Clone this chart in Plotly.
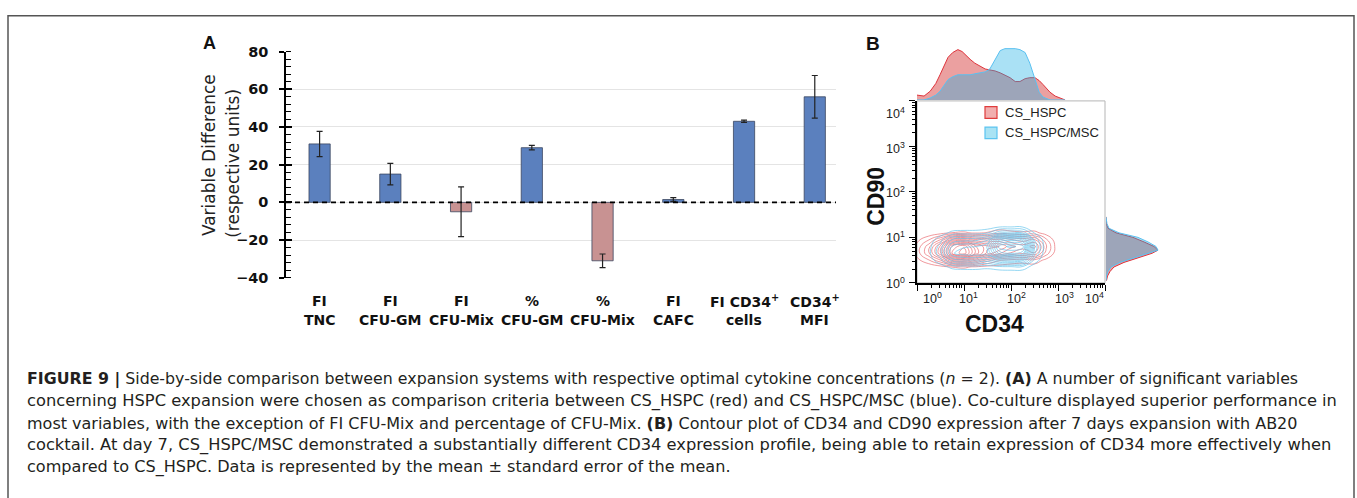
import math
import plotly.graph_objects as go

W, H = 1357, 498
def fx(p): return p / W
def fy(p): return 1 - p / H

# ---------------- Panel A data ----------------
cat_line1 = ["FI", "FI", "FI", "%", "%", "FI", "FI CD34<sup>+</sup>", "CD34<sup>+</sup>"]
cat_line2 = ["TNC", "CFU-GM", "CFU-Mix", "CFU-GM", "CFU-Mix", "CAFC", "cells", "MFI"]
diff_values = [31, 15, -5, 29, -31, 1.5, 43, 56]
diff_errors = [6.7, 5.7, 13.2, 1.2, 3.6, 1.0, 0.6, 11.3]
y_ticks_a = [-40, -20, 0, 20, 40, 60, 80]

# ---------------- Panel B data ----------------
# top marginal histogram (log10 CD34 vs relative frequency)
top_x = [0.0, 0.15, 0.28, 0.4, 0.49, 0.58, 0.66, 0.76, 0.87, 0.96, 1.04, 1.13, 1.23, 1.34, 1.45,
         1.55, 1.66, 1.77, 1.87, 1.98, 2.09, 2.19, 2.30, 2.40, 2.51, 2.60, 2.68, 2.76, 2.83, 2.94, 3.04, 3.15]
top_red = [5, 4, 9, 17, 26, 36, 44, 49, 52, 50, 46, 42, 38, 35, 32,
           31, 30, 28, 26, 23, 19, 19, 22, 23, 23, 20, 16, 12, 8, 4, 2, 0]
top_blue = [0, 0, 2, 5, 9, 15, 21, 24, 26, 26, 26, 26, 27, 28, 29,
            32, 42, 51, 53, 53, 53, 52, 49, 38, 20, 8, 3, 1, 0, 0, 0, 0]
# right marginal histogram (log10 CD90 vs relative frequency)
right_y = [0.05, 0.15, 0.25, 0.35, 0.45, 0.55, 0.65, 0.72, 0.8, 0.9, 1.0, 1.1, 1.2, 1.3, 1.45]
right_red = [0.5, 1.5, 4, 8, 18, 33, 46, 52, 48, 38, 27, 10, 2, 0.5, 0]
right_blue = [0, 0.5, 2, 5, 14, 29, 44, 52, 50, 42, 32, 13, 3, 1, 0]

# density grids (log10 CD34 columns x log10 CD90 rows)
grid_x = [-0.25, 0, 0.25, 0.5, 0.75, 1.0, 1.25, 1.5, 1.75, 2.0, 2.25, 2.5, 2.75, 3.0]
grid_y = [0.2, 0.35, 0.5, 0.65, 0.8, 0.95, 1.1, 1.25]
red_z = [
    [0, 0.02, 0.05, 0.1, 0.18, 0.2, 0.15, 0.09, 0.06, 0.05, 0.04, 0.05, 0.02, 0],
    [0, 0.08, 0.2, 0.4, 0.72, 0.8, 0.6, 0.45, 0.44, 0.36, 0.32, 0.36, 0.16, 0.02],
    [0, 0.5, 1.25, 2.5, 4.5, 5, 3.75, 2.2, 1.38, 1.13, 1.0, 1.13, 0.5, 0.05],
    [0, 0.95, 2.38, 4.75, 8.55, 9.5, 7.13, 5.25, 4.4, 3.6, 3.2, 3.6, 1.6, 0.16],
    [0, 0.9, 2.25, 4.5, 8.1, 9, 6.75, 5.7, 5.5, 4.5, 4, 4.5, 2.0, 0.2],
    [0, 0.5, 1.25, 2.5, 4.5, 5, 3.75, 3.6, 3.85, 3.15, 2.8, 3.15, 1.4, 0.14],
    [0, 0.08, 0.2, 0.4, 0.72, 0.8, 0.6, 0.75, 1.1, 0.9, 0.8, 0.9, 0.4, 0.04],
    [0, 0.01, 0.02, 0.04, 0.07, 0.08, 0.06, 0.1, 0.17, 0.14, 0.12, 0.14, 0.06, 0.01],
]
blue_z = [
    [0, 0, 0.02, 0.05, 0.14, 0.15, 0.15, 0.12, 0.14, 0.15, 0.14, 0.04, 0, 0],
    [0, 0, 0.1, 0.36, 0.9, 1.0, 1.02, 0.9, 1.14, 1.2, 1.14, 0.3, 0.01, 0],
    [0, 0, 0.33, 1.17, 2.93, 3.25, 3.32, 3.08, 4.28, 4.5, 4.28, 1.13, 0.05, 0],
    [0, 0, 0.5, 1.8, 4.5, 5, 5.1, 5.18, 8.08, 8.5, 8.08, 2.13, 0.09, 0],
    [0, 0, 0.45, 1.62, 4.05, 4.5, 4.59, 5.32, 9.5, 10, 9.5, 2.5, 0.1, 0],
    [0, 0, 0.3, 1.08, 2.7, 3, 3.06, 3.78, 7.13, 7.5, 7.13, 1.88, 0.08, 0],
    [0, 0, 0.1, 0.36, 0.9, 1, 1.02, 1.29, 2.47, 2.6, 2.47, 0.65, 0.03, 0],
    [0, 0, 0.02, 0.05, 0.14, 0.15, 0.15, 0.2, 0.38, 0.4, 0.38, 0.1, 0, 0],
]
decades = [0, 1, 2, 3, 4]
legend_names = ["CS_HSPC", "CS_HSPC/MSC"]

caption_lines = [
    "<b>FIGURE 9 |</b> Side-by-side comparison between expansion systems with respective optimal cytokine concentrations (<i>n</i> = 2). <b>(A)</b> A number of significant variables",
    "concerning HSPC expansion were chosen as comparison criteria between CS_HSPC (red) and CS_HSPC/MSC (blue). Co-culture displayed superior performance in",
    "most variables, with the exception of FI CFU-Mix and percentage of CFU-Mix. <b>(B)</b> Contour plot of CD34 and CD90 expression after 7 days expansion with AB20",
    "cocktail. At day 7, CS_HSPC/MSC demonstrated a substantially different CD34 expression profile, being able to retain expression of CD34 more effectively when",
    "compared to CS_HSPC. Data is represented by the mean \u00b1 standard error of the mean.",
]
caption_sizes = [15.8, 16.3, 16.0, 16.3, 16.1]

# ---------------- colours ----------------
BLUE_BAR = "#5b80be"
RED_BAR = "#c89292"
RED_LINE = "rgb(222,52,60)"
BLUE_LINE = "rgb(90,192,240)"
RED_FILL = "rgba(211,44,44,0.45)"
BLUE_FILL = "rgba(25,174,228,0.37)"

fig = go.Figure()

# ---- Panel A bars ----
cat_idx = list(range(len(diff_values)))
bar_colors = [BLUE_BAR if v >= 0 else RED_BAR for v in diff_values]
fig.add_trace(go.Bar(
    x=cat_idx, y=diff_values, width=0.3,
    marker=dict(color=bar_colors, line=dict(color="#3b4660", width=0.8)),
    error_y=dict(type="data", array=diff_errors, color="#222", thickness=1.2, width=3),
    xaxis="x4", yaxis="y4", showlegend=False, hoverinfo="skip"))
fig.add_trace(go.Scatter(x=[None], y=[None], xaxis="x4", yaxis="y5", showlegend=False))

# ---- Panel B contours ----
fig.add_trace(go.Contour(
    x=grid_x, y=grid_y, z=red_z, xaxis="x", yaxis="y",
    contours=dict(coloring="lines", start=0.7, end=9.4, size=0.6),
    line=dict(width=0.8, smoothing=1.3),
    colorscale=[[0, "rgba(232,95,100,0.8)"], [1, "rgba(232,95,100,0.8)"]],
    showscale=False, hoverinfo="skip"))
fig.add_trace(go.Contour(
    x=grid_x, y=grid_y, z=blue_z, xaxis="x", yaxis="y",
    contours=dict(coloring="lines", start=0.7, end=10, size=0.65),
    line=dict(width=0.8, smoothing=1.3),
    colorscale=[[0, "rgba(100,195,235,0.85)"], [1, "rgba(100,195,235,0.85)"]],
    showscale=False, hoverinfo="skip"))

# ---- marginal histograms ----
fig.add_trace(go.Scatter(x=top_x, y=top_red, mode="lines", fill="tozeroy",
                         line=dict(color=RED_LINE, width=1), fillcolor=RED_FILL,
                         xaxis="x2", yaxis="y2", showlegend=False, hoverinfo="skip"))
fig.add_trace(go.Scatter(x=top_x, y=top_blue, mode="lines", fill="tozeroy",
                         line=dict(color=BLUE_LINE, width=1), fillcolor=BLUE_FILL,
                         xaxis="x2", yaxis="y2", showlegend=False, hoverinfo="skip"))
fig.add_trace(go.Scatter(x=right_red, y=right_y, mode="lines", fill="tozerox",
                         line=dict(color=RED_LINE, width=1), fillcolor=RED_FILL,
                         xaxis="x3", yaxis="y3", showlegend=False, hoverinfo="skip"))
fig.add_trace(go.Scatter(x=right_blue, y=right_y, mode="lines", fill="tozerox",
                         line=dict(color=BLUE_LINE, width=1), fillcolor=BLUE_FILL,
                         xaxis="x3", yaxis="y3", showlegend=False, hoverinfo="skip"))

minor_log = [d + math.log10(k) for d in range(4) for k in range(2, 10)]
log_axis = dict(range=[0, 4], showline=True, linecolor="black", linewidth=1.5,
                ticks="outside", ticklen=6, tickwidth=1.2, tickcolor="black",
                tickmode="array", tickvals=decades, showticklabels=False,
                minor=dict(tickmode="array", tickvals=minor_log, ticks="outside",
                           ticklen=3, tickcolor="black", tickwidth=0.8),
                showgrid=False, zeroline=False, fixedrange=True)

fig.update_layout(
    width=W, height=H, margin=dict(l=0, r=0, t=0, b=0),
    paper_bgcolor="white", plot_bgcolor="rgba(0,0,0,0)", showlegend=False,
    xaxis=dict(domain=[fx(917), fx(1105)], anchor="y", **log_axis),
    yaxis=dict(domain=[fy(284), fy(96)], anchor="x", **log_axis),
    xaxis2=dict(domain=[fx(917), fx(1105)], anchor="y2", range=[0, 4], visible=False),
    yaxis2=dict(domain=[fy(95), fy(39)], anchor="x2", range=[0, 56], visible=False),
    xaxis3=dict(domain=[fx(1106), fx(1162)], anchor="y3", range=[0, 56], visible=False),
    yaxis3=dict(domain=[fy(284), fy(96)], anchor="x3", range=[0, 4], visible=False),
    xaxis4=dict(domain=[fx(286), fx(836)], anchor="y4", range=[-0.475, 7.3],
                showline=False, showticklabels=False, ticks="", showgrid=False, zeroline=False),
    yaxis4=dict(domain=[fy(278.7), fy(45)], anchor="x4", range=[-40, 80],
                tickmode="array", tickvals=y_ticks_a,
                showline=True, linecolor="black", linewidth=1.5,
                ticks="outside", ticklen=5, tickwidth=1.5, tickcolor="black",
                ticklabelstandoff=8,
                tickfont=dict(family="DejaVu Sans", size=14.5, color="#111", weight="bold"),
                minor=dict(dtick=4, ticks="inside", ticklen=5, tickcolor="black", tickwidth=1, showgrid=False),
                showgrid=True, gridcolor="#e4e4e4", gridwidth=1, zeroline=False),
    yaxis5=dict(overlaying="y4", anchor="x4", range=[-40, 80], side="left",
                tickmode="array", tickvals=y_ticks_a, ticks="inside", ticklen=6,
                tickwidth=1.5, tickcolor="black", showticklabels=False,
                showline=False, showgrid=False, zeroline=False),
)

shapes = []
# outer frame (bottom edge lies below the page)
shapes.append(dict(type="rect", xref="paper", yref="paper", x0=fx(8), x1=fx(1354), y0=fy(520), y1=fy(8),
                   line=dict(color="#555", width=1.5), layer="below"))
# B box border
shapes.append(dict(type="rect", xref="paper", yref="paper", x0=fx(917), x1=fx(1105), y0=fy(284), y1=fy(96),
                   line=dict(color="#b5b5b5", width=1), layer="below"))
# zero dashed line
shapes.append(dict(type="line", xref="x4 domain", yref="y4", x0=0, x1=1, y0=0, y1=0,
                   line=dict(color="black", width=1.6, dash="5px,4px")))
# legend swatches
shapes.append(dict(type="rect", xref="paper", yref="paper", x0=fx(985), x1=fx(997), y0=fy(114), y1=fy(102),
                   line=dict(color="#e03c3c", width=1.2), fillcolor="rgba(232,120,120,0.6)"))
shapes.append(dict(type="rect", xref="paper", yref="paper", x0=fx(985), x1=fx(997), y0=fy(135), y1=fy(123),
                   line=dict(color="#5cc4f0", width=1.2), fillcolor="rgba(140,218,240,0.75)"))
fig.update_layout(shapes=shapes)

ann = []
def add_text(text, x, y, size, family="Liberation Sans", color="#111", xanchor="center",
             yanchor="middle", angle=0, weight="normal"):
    ann.append(dict(text=text, x=fx(x), y=fy(y), xref="paper", yref="paper", showarrow=False,
                    xanchor=xanchor, yanchor=yanchor, textangle=angle,
                    font=dict(family=family, size=size, color=color, weight=weight)))

# panel letters
add_text("A", 209, 36, 18, weight="bold")
add_text("B", 873, 37, 19, weight="bold")
# y-axis title A
add_text("Variable Difference", 209, 152, 17, family="DejaVu Sans", color="#222", angle=-90)
add_text("(respective units)", 233, 161, 17, family="DejaVu Sans", color="#222", angle=-90)
# category labels
for i in range(len(cat_line1)):
    ann.append(dict(text=cat_line1[i], x=cat_idx[i], xref="x4", y=fy(303), yref="paper",
                    showarrow=False, xanchor="center", yanchor="middle",
                    font=dict(family="DejaVu Sans", size=14, color="#111", weight="bold")))
    ann.append(dict(text=cat_line2[i], x=cat_idx[i], xref="x4", y=fy(322), yref="paper",
                    showarrow=False, xanchor="center", yanchor="middle",
                    font=dict(family="DejaVu Sans", size=14, color="#111", weight="bold")))

# B tick labels
x_lab_px = [932, 968, 1017, 1064, 1094]
y_lab_px = [284, 237, 190, 145, 108]
for d, xp in zip(decades, x_lab_px):
    add_text("10<sup>%d</sup>" % d, xp, 300, 12.5, color="#222")
for d, yp in zip(decades, y_lab_px):
    add_text("10<sup>%d</sup>" % d, 907, yp, 12.5, color="#222", xanchor="right")
# B axis titles
add_text("CD90", 876, 194, 23, color="#111", angle=-90, weight="bold")
add_text("CD34", 995, 326, 23, color="#111", weight="bold")
# legend text
add_text(legend_names[0], 1003, 108, 13, color="#222", xanchor="left")
add_text(legend_names[1], 1003, 129, 13, color="#222", xanchor="left")

# caption
cap_y = [383, 406, 429, 452, 474]
for line, yp, sz in zip(caption_lines, cap_y, caption_sizes):
    add_text(line, 25, yp, sz, family="DejaVu Sans", color="#231f20", xanchor="left")

fig.update_layout(annotations=ann)
fig.write_html("out.html")
